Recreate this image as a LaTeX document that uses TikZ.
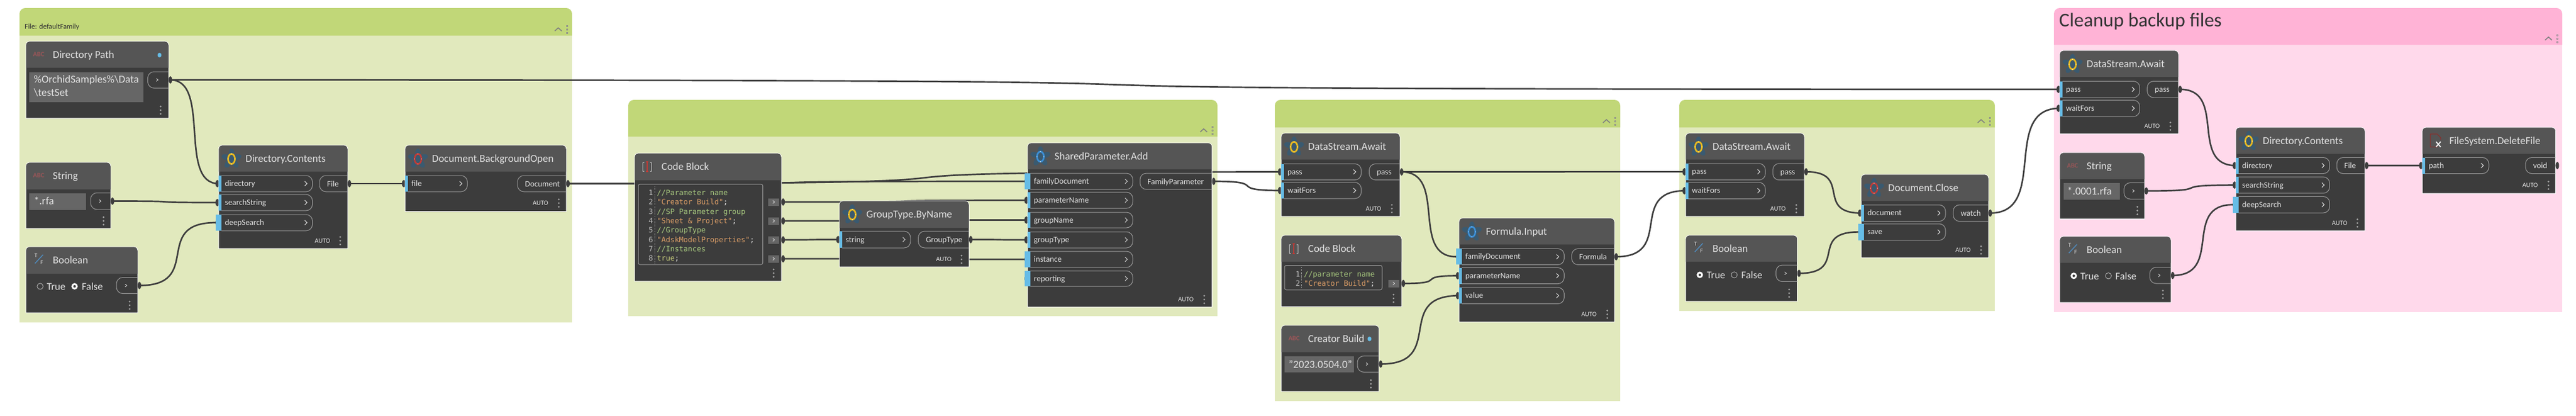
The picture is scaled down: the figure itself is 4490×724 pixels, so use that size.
\documentclass[tikz,border=0pt]{standalone}
\usepackage{fontspec}
\setmainfont{Carlito}
\newfontfamily\codef{DejaVu Sans Mono}
\usetikzlibrary{calc}
\definecolor{bodyc}{HTML}{3C3C3C}
\definecolor{headc}{HTML}{555555}
\definecolor{wirec}{HTML}{3E3E3E}
\definecolor{pillc}{HTML}{9E9E9E}
\definecolor{barc}{HTML}{66BCE6}
\definecolor{fieldc}{HTML}{666666}
\definecolor{txtc}{HTML}{E2E2E2}
\definecolor{grnh}{HTML}{C1D778}
\definecolor{grnb}{HTML}{E1E9BD}
\definecolor{pnkh}{HTML}{FFB3D6}
\definecolor{pnkb}{HTML}{FFD9EB}
\definecolor{petalc}{HTML}{3A5A70}
\definecolor{icony}{HTML}{E8B81E}
\definecolor{iconr}{HTML}{BF3B36}
\definecolor{iconb}{HTML}{3C8FD6}
\definecolor{abcc}{HTML}{9A5558}
\definecolor{cmt}{HTML}{A8C97F}
\definecolor{strc}{HTML}{D99C66}
\definecolor{kwc}{HTML}{C4C97A}
\definecolor{numc}{HTML}{BDBDBD}
\pgfdeclarelayer{back}
\pgfdeclarelayer{wires}
\pgfsetlayers{back,wires,main}
\tikzset{
  titlet/.style={text=txtc,font=\fontsize{18.4}{18.4}\selectfont,inner sep=0,anchor=base west},
  labelt/.style={text=txtc,font=\fontsize{14.3}{14.3}\selectfont,inner sep=0,anchor=base west},
  autot/.style={text=txtc,font=\fontsize{11.5}{11.5}\selectfont,inner sep=0,anchor=center},
  fieldt/.style={text=txtc,font=\fontsize{18.7}{18.7}\selectfont,inner sep=0,anchor=base west},
  codet/.style={font=\codef\fontsize{12.8}{12.8}\selectfont,inner sep=0,anchor=base west},
  numt/.style={text=numc,font=\codef\fontsize{12.8}{12.8}\selectfont,inner sep=0,anchor=base east},
  radiot/.style={text=txtc,font=\fontsize{18}{18}\selectfont,inner sep=0,anchor=base west},
  grouptxt/.style={text=black!80,inner sep=0,anchor=base west},
  wirest/.style={draw=wirec,line width=2.7,line cap=round},
  pillst/.style={draw=pillc,line width=1,rounded corners=11},
  chevst/.style={draw=txtc,line width=1}
}
% group: name x0 ytop x1 yhead ybot head body
\newcommand\dgroup[8]{%
  \begin{pgfonlayer}{back}
  \fill[#8] (#2,#5) rectangle (#4,#6);
  \fill[#7] (#2,#5) -- (#2,#3+10) .. controls (#2,#3+4.5) and (#2+4.5,#3) .. (#2+10,#3) -- (#4-10,#3) .. controls (#4-4.5,#3) and (#4,#3+4.5) .. (#4,#3+10) -- (#4,#5) -- cycle;
  \draw[black!50,line width=1.6] (#4-30,#5-8) -- (#4-24,#5-13.5) -- (#4-18,#5-8);
  \foreach \k in {-6,0,6}{\draw[black!45,line width=.7] (#4-9.5,#5-11.5+\k) rectangle (#4-7.5,#5-9.5+\k);}
  \coordinate (#1) at (#2,#3);
  \end{pgfonlayer}}
% box: name x0 ytop x1 yhead ybot title
\newcommand\dbox[7]{%
  \draw[fill=bodyc,draw=white,line width=1] (#2,#6) -- (#2,#3+7) .. controls (#2,#3+3) and (#2+3,#3) .. (#2+7,#3) -- (#4-7,#3) .. controls (#4-3,#3) and (#4,#3+3) .. (#4,#3+7) -- (#4,#6) -- cycle;
  \fill[headc] (#2+.5,#5) -- (#2+.5,#3+7) .. controls (#2+.5,#3+3.2) and (#2+3.2,#3+.5) .. (#2+7,#3+.5) -- (#4-7,#3+.5) .. controls (#4-3.2,#3+.5) and (#4-.5,#3+3.2) .. (#4-.5,#3+7) -- (#4-.5,#5) -- cycle;
  \node[titlet] (#1) at (#2+47,{(#3+#5)/2+6}) {#7};}
% three menu dots at x, from y centre
\newcommand\mdots[2]{\foreach \k in {-6.5,0,6.5}{\fill[black!35!white] (#1,#2+\k) circle (1.6);}}
% auto label and dots
\newcommand\dauto[4]{\node[autot] (#1) at (#2,#4) {AUTO};\mdots{#3}{#4}}
% flower icon: x0 ytop colour
\newcommand\flower[3]{%
  \foreach \a in {90,162,234,306,18}{\fill[petalc,rotate around={\a-90:(#1+22.5,#2+24)}] (#1+22.5,#2+15) ellipse (5 and 9);}
  \draw[#3,line width=2.8] (#1+22.5,#2+24) ellipse (6 and 8.8);
  \foreach \dx/\dy in {0/-8.8,0/8.8,-6/0,6/0}{\fill[white] (#1+22.5+\dx,#2+24+\dy) circle (.7);}}
\newcommand\abcicon[3]{\node[inner sep=0,text=abcc,font=\bfseries\fontsize{11.5}{11.5}\selectfont] (#1) at (#2+22.5,#3+23) {ABC};}
\newcommand\tficon[3]{%
  \node[inner sep=0,text=txtc,font=\fontsize{10}{10}\selectfont] (#1-t) at (#2+17.5,#3+15) {T};
  \node[inner sep=0,text=txtc,font=\fontsize{10}{10}\selectfont] (#1-f) at (#2+28,#3+27) {F};
  \draw[iconb!70!gray,line width=1.5] (#2+30,#3+14) -- (#2+16,#3+29);}
\newcommand\cbicon[2]{%
  \draw[black!25!white,line width=1] (#1+17,#2+16) -- (#1+14.5,#2+16) -- (#1+14.5,#2+31) -- (#1+17,#2+31);
  \draw[black!25!white,line width=1] (#1+27,#2+16) -- (#1+29.5,#2+16) -- (#1+29.5,#2+31) -- (#1+27,#2+31);
  \draw[iconr,line width=1.2] (#1+22,#2+15) -- (#1+22,#2+32) (#1+20,#2+15) -- (#1+24,#2+15) (#1+20,#2+32) -- (#1+24,#2+32);}
% input: name x0 xR yt yb label barExt
\newcommand\inp[7]{%
  \begin{pgfonlayer}{wires}\fill[wirec] (#2-2,{(#4+#5)/2}) ellipse (3.5 and 6.5);\end{pgfonlayer}
  \fill[barc] (#2-#7,#4) rectangle (#2+5,#5);
  \draw[pillst] (#2+5,#4) -- (#3,#4) -- (#3,#5) -- (#2+5,#5);
  \draw[chevst] (#3-13.5,{(#4+#5)/2-4}) -- (#3-9.5,{(#4+#5)/2}) -- (#3-13.5,{(#4+#5)/2+4});
  \node[labelt] (#1-l) at (#2+11,{(#4+#5)/2+4.5}) {#6};
  \coordinate (#1) at (#2-#7,{(#4+#5)/2});}
% output: name xL x1 yt yb label
\newcommand\outp[6]{%
  \draw[pillst] (#3,#4) -- (#2,#4) -- (#2,#5) -- (#3,#5);
  \node[labelt] (#1-l) at (#2+13,{(#4+#5)/2+5}) {#6};
  \fill[wirec] (#3+3,{(#4+#5)/2}) ellipse (3 and 6.5);
  \coordinate (#1) at (#3+3,{(#4+#5)/2});}
% small output (value nodes): name xL x1 yt yb
\newcommand\voutp[5]{%
  \draw[pillst] (#3,#4) -- (#2,#4) -- (#2,#5) -- (#3,#5);
  \draw[chevst,line width=.8] (#2+15,{(#4+#5)/2-2.5}) -- (#2+18,{(#4+#5)/2}) -- (#2+15,{(#4+#5)/2+2.5});
  \fill[wirec] (#3+3,{(#4+#5)/2}) ellipse (3 and 6.5);
  \coordinate (#1) at (#3+3,{(#4+#5)/2});}
% code output square: name xL xR y
\newcommand\coutp[4]{%
  \fill[fieldc] (#2,#4-6.5) rectangle (#3,#4+6.5);
  \draw[chevst,line width=.8] ({(#2+#3)/2-1.5},#4-2.5) -- ({(#2+#3)/2+1.5},#4) -- ({(#2+#3)/2-1.5},#4+2.5);
  \fill[wirec] (#3+7,#4) ellipse (3 and 6.5);
  \coordinate (#1) at (#3+7,#4);}
\newcommand\field[5]{\fill[fieldc] (#2,#3) rectangle (#4,#5);\coordinate (#1) at (#2,#3);}
\newcommand\radio[3]{%
  \ifnum#3=1 \draw[white,line width=3,fill=bodyc] (#1,#2) circle (4);
  \else \draw[black!25!white,line width=.8] (#1,#2) circle (5.3);\fi}
\newcommand\codeln[6]{%
  \node[numt] (#1-n) at (#2-6.5,#3) {#4};
  \node[codet,text=#5] (#1) at (#2,#3) {#6};}
\begin{document}
\begin{tikzpicture}[x=1pt,y=-1pt]
\useasboundingbox (0,0) rectangle (4490,724);
\begin{pgfonlayer}{back}
\fill[white] (0,0) rectangle (4490,724);
\end{pgfonlayer}

% ---------- groups
\dgroup{g1}{34}{14}{997}{62}{562}{grnh}{grnb}
\node[grouptxt,font=\fontsize{12.7}{12.7}\selectfont] (g1t) at (43,50) {File: defaultFamily};
\dgroup{g2}{1095}{174}{2122}{238}{551}{grnh}{grnb}
\dgroup{g3}{2222}{174}{2824}{222}{698.5}{grnh}{grnb}
\dgroup{g4}{2927}{174}{3477}{222}{542}{grnh}{grnb}
\dgroup{g5}{3580}{14}{4466}{78}{544}{pnkh}{pnkb}
\node[grouptxt,font=\fontsize{34}{34}\selectfont] (g5t) at (3589,46) {Cleanup backup files};

% ---------- Directory Path
\dbox{dirp}{45}{72}{294}{118}{206}{Directory Path}
\abcicon{dirpi}{45}{72}
\fill[barc] (278,96) ellipse (3.5 and 4);
\field{dirpf}{51}{126}{250}{178}
\node[fieldt] (dirpa) at (59,144) {\%OrchidSamples\%\textbackslash Data};
\node[fieldt] (dirpb) at (59,167) {\textbackslash testSet};
\voutp{dirp-out}{257.5}{294}{125}{153.5}
\mdots{280}{192}

% ---------- String
\dbox{str1}{45}{283}{193}{330}{398}{String}
\abcicon{str1i}{45}{283}
\field{str1f}{51}{337}{150}{365.5}
\node[fieldt] (str1a) at (59,356) {*.rfa};
\voutp{str1-out}{158}{193}{336}{365}
\mdots{180.5}{385}

% ---------- Boolean 1
\dbox{bool1}{45}{430}{240}{477}{545}{Boolean}
\tficon{bool1i}{45}{430}
\radio{70}{499}{0}
\node[radiot] (bool1t) at (81.5,505) {True};
\radio{130}{499}{1}
\node[radiot] (bool1f) at (142.5,505) {False};
\voutp{bool1-out}{203}{240}{483.5}{511.6}
\mdots{226}{532}

% ---------- Directory.Contents 1
\dbox{dc1}{381}{253}{606}{299}{433}{Directory.Contents}
\flower{381}{253}{icony}
\inp{dc1-dir}{381}{544.6}{306}{334}{directory}{0}
\inp{dc1-search}{381}{544.6}{339}{367}{searchString}{0}
\inp{dc1-deep}{381}{544.6}{374}{402}{deepSearch}{5}
\outp{dc1-file}{557}{606}{306}{334}{File}
\dauto{dc1a}{562}{593}{419.5}

% ---------- Document.BackgroundOpen
\dbox{bg}{706}{253}{987}{299}{368.5}{Document.BackgroundOpen}
\flower{706}{253}{iconr}
\inp{bg-file}{706}{814.6}{306}{334}{file}{0}
\outp{bg-doc}{902}{987}{306}{334}{Document}
\dauto{bga}{942}{974}{354}

% ---------- Code Block 1
\dbox{cb1}{1106}{267}{1362}{314}{490}{Code Block}
\cbicon{1106}{267}
\draw[pillc,line width=1,rounded corners=3] (1112.5,321) rectangle (1329.5,461);
\draw[numc,line width=.6,dotted] (1141.5,325) -- (1141.5,458);
\codeln{cb1l1}{1145}{340.5}{1}{cmt}{//Parameter name}
\codeln{cb1l2}{1145}{356.5}{2}{strc}{"Creator Build"\textcolor{txtc}{;}}
\codeln{cb1l3}{1145}{373.5}{3}{cmt}{//SP Parameter group}
\codeln{cb1l4}{1145}{389.5}{4}{strc}{"Sheet \& Project"\textcolor{txtc}{;}}
\codeln{cb1l5}{1145}{405.5}{5}{cmt}{//GroupType}
\codeln{cb1l6}{1145}{422.5}{6}{strc}{"AdskModelProperties"\textcolor{txtc}{;}}
\codeln{cb1l7}{1145}{438.5}{7}{cmt}{//Instances}
\codeln{cb1l8}{1145}{454.5}{8}{kwc}{true\textcolor{txtc}{;}}
\coutp{cb1-o1}{1339}{1358}{352}
\coutp{cb1-o2}{1339}{1358}{385}
\coutp{cb1-o3}{1339}{1358}{418}
\coutp{cb1-o4}{1339}{1358}{451}
\mdots{1348.4}{476}

% ---------- GroupType.ByName
\dbox{gt}{1463}{350}{1689}{397}{465}{GroupType.ByName}
\flower{1463}{350}{icony}
\inp{gt-string}{1463}{1587}{403}{432}{string}{0}
\outp{gt-out}{1600.6}{1689}{403}{432}{GroupType}
\dauto{gta}{1645}{1676}{452}

% ---------- SharedParameter.Add
\dbox{sp}{1791}{249}{2112.5}{295}{535}{SharedParameter.Add}
\flower{1791}{249}{iconb}
\inp{sp-fam}{1791}{1974.5}{302}{330}{familyDocument}{5}
\inp{sp-param}{1791}{1974.5}{335}{363}{parameterName}{0}
\inp{sp-group}{1791}{1974.5}{370}{397}{groupName}{0}
\inp{sp-gtype}{1791}{1974.5}{404}{432}{groupType}{0}
\inp{sp-inst}{1791}{1974.5}{438}{466}{instance}{5}
\inp{sp-rep}{1791}{1974.5}{472}{499}{reporting}{5}
\outp{sp-out}{1987}{2112.5}{302}{330}{FamilyParameter}
\dauto{spa}{2067}{2099}{522}

% ---------- DataStream 1
\dbox{ds1}{2233}{232}{2440}{278}{377}{DataStream.Await}
\flower{2233}{232}{icony}
\inp{ds1-pass}{2233}{2372.6}{285.5}{313.6}{pass}{0}
\inp{ds1-wait}{2233}{2372.6}{318}{346}{waitFors}{0}
\outp{ds1-out}{2386.6}{2440}{285.5}{313.6}{pass}
\dauto{ds1a}{2394}{2426}{363.6}

% ---------- Code Block 2
\dbox{cb2}{2233}{410}{2443}{456}{534.5}{Code Block}
\cbicon{2233}{410}
\draw[pillc,line width=1,rounded corners=3] (2239,462.5) rectangle (2409,505);
\draw[numc,line width=.6,dotted] (2268,466) -- (2268,502);
\codeln{cb2l1}{2272.7}{482.5}{1}{cmt}{//parameter name}
\codeln{cb2l2}{2272.7}{498.5}{2}{strc}{"Creator Build"\textcolor{txtc}{;}}
\coutp{cb2-o1}{2419.6}{2439}{494}
\mdots{2429}{520}

% ---------- Creator Build
\dbox{cr}{2233}{567}{2403.6}{613.6}{682}{Creator Build}
\abcicon{cri}{2233}{567}
\fill[barc] (2387,590.6) ellipse (3.5 and 4);
\field{crf}{2239}{620.8}{2360}{649}
\node[fieldt] (cra) at (2246,641) {"2023.0504.0"};
\voutp{cr-out}{2366}{2403.6}{620.4}{648.5}
\mdots{2389.5}{669}

% ---------- Formula.Input
\dbox{fi}{2543}{380}{2814}{426}{561}{Formula.Input}
\flower{2543}{380}{iconb}
\inp{fi-doc}{2543}{2726.4}{433.4}{461.4}{familyDocument}{5}
\inp{fi-param}{2543}{2726.4}{466.5}{494.5}{parameterName}{0}
\inp{fi-value}{2543}{2726.4}{501}{529.4}{value}{0}
\outp{fi-out}{2739.5}{2814}{433.4}{461.4}{Formula}
\dauto{fia}{2769.6}{2801.5}{547.8}

% ---------- DataStream 2
\dbox{ds2}{2938}{232}{3145}{278}{377}{DataStream.Await}
\flower{2938}{232}{icony}
\inp{ds2-pass}{2938}{3077}{285}{313.7}{pass}{0}
\inp{ds2-wait}{2938}{3077}{318}{346.7}{waitFors}{0}
\outp{ds2-out}{3090}{3145}{285}{313.7}{pass}
\dauto{ds2a}{3099}{3131}{363.7}

% ---------- Boolean 2
\dbox{bool2}{2938}{410}{3132.7}{456}{525}{Boolean}
\tficon{bool2i}{2938}{410}
\radio{2962.8}{479}{1}
\node[radiot] (bool2t) at (2974.6,485) {True};
\radio{3022.8}{479}{0}
\node[radiot] (bool2f) at (3035,485) {False};
\voutp{bool2-out}{3095.6}{3132.7}{462}{490.7}
\mdots{3118.5}{511}

% ---------- Document.Close
\dbox{dcl}{3244}{304}{3466}{350}{449}{Document.Close}
\flower{3244}{304}{iconr}
\inp{dcl-doc}{3244}{3391}{357}{385.7}{document}{0}
\inp{dcl-save}{3244}{3391}{390}{418.7}{save}{5}
\outp{dcl-out}{3404.4}{3466}{357}{385.7}{watch}
\dauto{dcla}{3421.6}{3453}{435.7}

% ---------- DataStream 3
\dbox{ds3}{3590}{88}{3797}{134}{233}{DataStream.Await}
\flower{3590}{88}{icony}
\inp{ds3-pass}{3590}{3729.6}{141.5}{170}{pass}{0}
\inp{ds3-wait}{3590}{3729.6}{174.5}{203}{waitFors}{0}
\outp{ds3-out}{3742.7}{3797}{141.5}{170}{pass}
\dauto{ds3a}{3751}{3783}{220}

% ---------- String 2
\dbox{str2}{3590}{266}{3738}{312}{381.5}{String}
\abcicon{str2i}{3590}{266}
\field{str2f}{3597}{319}{3695}{348.4}
\node[fieldt] (str2a) at (3603,339) {*.0001.rfa};
\voutp{str2-out}{3702}{3738}{318.5}{347}
\mdots{3725.5}{367}

% ---------- Boolean 3
\dbox{bool3}{3590}{412}{3784}{458}{527}{Boolean}
\tficon{bool3i}{3590}{412}
\radio{3614.6}{480.7}{1}
\node[radiot] (bool3t) at (3626,487) {True};
\radio{3675}{480.7}{0}
\node[radiot] (bool3f) at (3687,487) {False};
\voutp{bool3-out}{3747}{3784}{466}{494}
\mdots{3770}{513}

% ---------- Directory.Contents 2
\dbox{dc2}{3897}{222}{4122}{268}{402}{Directory.Contents}
\flower{3897}{222}{icony}
\inp{dc2-dir}{3897}{4060.6}{274.5}{302.5}{directory}{0}
\inp{dc2-search}{3897}{4060.6}{308.4}{336.7}{searchString}{0}
\inp{dc2-deep}{3897}{4060.6}{342.5}{371}{deepSearch}{5}
\outp{dc2-file}{4073}{4122}{274.5}{302.5}{File}
\dauto{dc2a}{4078}{4109}{388.7}

% ---------- FileSystem.DeleteFile
\dbox{del}{4222}{222}{4454.4}{268}{337}{FileSystem.DeleteFile}
\draw[iconr!75!black,line width=1] (4248,253) -- (4248,256) -- (4236,256) -- (4236,233.5) -- (4248,233.5) -- (4254,240) -- (4254,244);
\draw[white,line width=1.8] (4246,247) -- (4254,256) (4254,247) -- (4246,256);
\inp{del-path}{4222}{4338}{274.5}{302.5}{path}{0}
\outp{del-out}{4402}{4454.4}{274.5}{302.5}{void}
\dauto{dela}{4410}{4442}{323}

% ---------- wires
\newcommand\wire[2]{\draw[wirest] let \p1=(#1),\p2=(#2),\n1={abs(\x2-\x1)*0.85} in (\p1) .. controls (\x1+\n1,\y1) and (\x2-\n1,\y2) .. (\p2);}
\begin{pgfonlayer}{wires}
\wire{dirp-out}{dc1-dir}
\wire{dirp-out}{ds3-pass}
\wire{str1-out}{dc1-search}
\wire{bool1-out}{dc1-deep}
\wire{dc1-file}{bg-file}
\wire{bg-doc}{sp-fam}
\wire{bg-doc}{ds1-pass}
\wire{cb1-o1}{sp-param}
\wire{cb1-o2}{sp-group}
\wire{cb1-o3}{gt-string}
\wire{cb1-o4}{sp-inst}
\wire{gt-out}{sp-gtype}
\wire{sp-out}{ds1-wait}
\wire{ds1-out}{ds2-pass}
\wire{ds1-out}{fi-doc}
\wire{cb2-o1}{fi-param}
\wire{cr-out}{fi-value}
\wire{fi-out}{ds2-wait}
\wire{ds2-out}{dcl-doc}
\wire{bool2-out}{dcl-save}
\wire{dcl-out}{ds3-wait}
\wire{ds3-out}{dc2-dir}
\wire{str2-out}{dc2-search}
\wire{bool3-out}{dc2-deep}
\wire{dc2-file}{del-path}
\end{pgfonlayer}
\end{tikzpicture}
\end{document}
